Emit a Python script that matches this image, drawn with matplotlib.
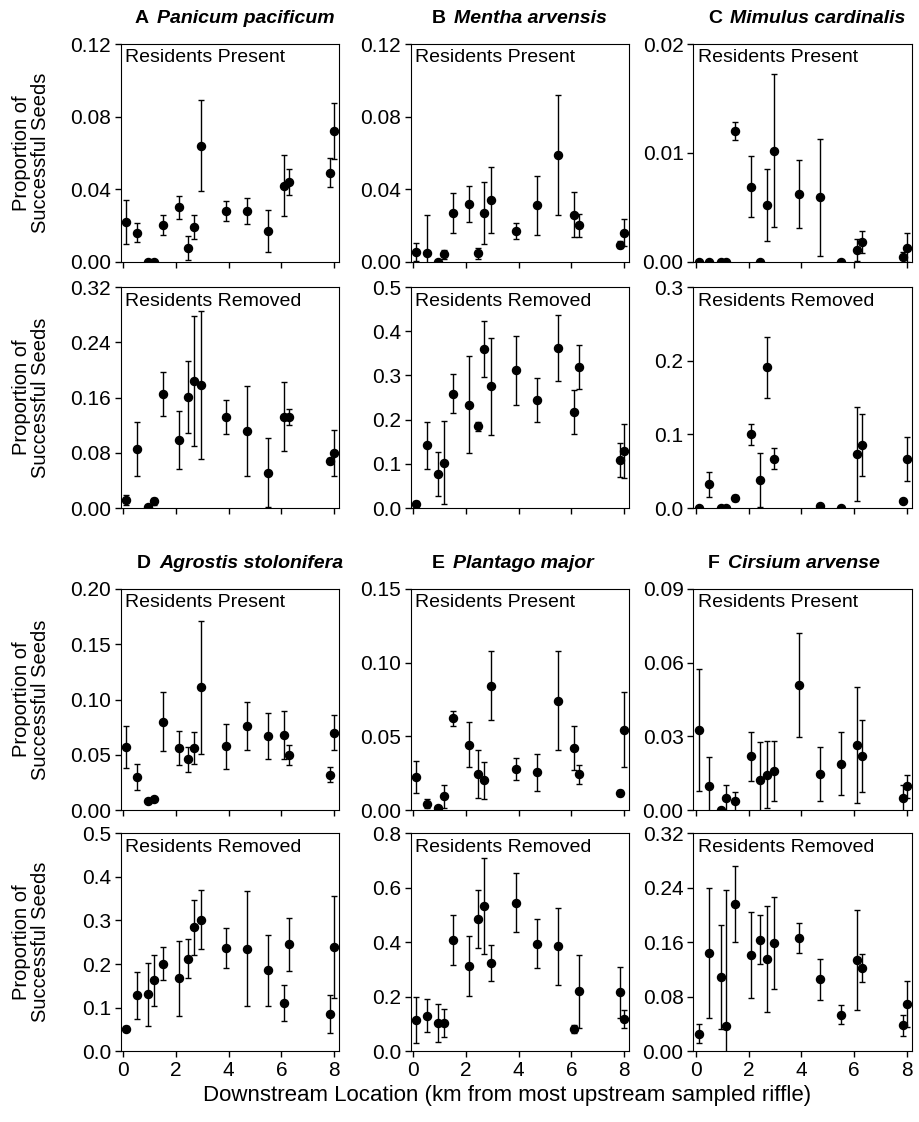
import matplotlib
matplotlib.use('Agg')
import matplotlib.pyplot as plt
import numpy as np

plt.rcParams['font.family'] = ['Liberation Sans', 'DejaVu Sans']

# downstream location of each sampled riffle (km)
km = [0.1, 0.5, 0.95, 1.15, 1.5, 2.1, 2.45, 2.7, 2.95, 3.9, 4.7, 5.5, 6.1, 6.3, 7.85, 8.0]

# mean proportion of successful seeds and SE, residents present / removed
panicum_pres = [0.022, 0.016, 0.0, 0.0, 0.020, 0.030, 0.0075, 0.019, 0.064, 0.028,
                0.028, 0.017, 0.042, 0.044, 0.049, 0.072]
panicum_pres_se = [0.012, 0.0053, 0, 0, 0.0055, 0.0064, 0.0064, 0.0065, 0.025, 0.0054,
                   0.0072, 0.0114, 0.0168, 0.007, 0.008, 0.0153]
panicum_rem = [0.012, 0.086, 0.001, 0.010, 0.165, 0.098, 0.161, 0.184, 0.178, 0.132,
               0.111, 0.051, 0.132, 0.132, 0.068, 0.080]
panicum_rem_se = [0.007, 0.039, 0, 0.005, 0.032, 0.042, 0.052, 0.094, 0.107, 0.025,
                  0.065, 0.05, 0.05, 0.012, 0.005, 0.033]

mentha_pres = [0.0055, 0.0048, 0.0, 0.004, 0.027, 0.032, 0.0046, 0.027, 0.034, 0.017,
               0.031, 0.059, 0.026, 0.020, 0.0094, 0.016]
mentha_pres_se = [0.005, 0.021, 0, 0.0026, 0.011, 0.010, 0.003, 0.017, 0.018, 0.0046,
                  0.0165, 0.033, 0.0124, 0.0062, 0.002, 0.0076]
mentha_rem = [0.01, 0.142, 0.077, 0.102, 0.259, 0.234, 0.185, 0.36, 0.275, 0.312,
              0.245, 0.362, 0.217, 0.319, 0.108, 0.13]
mentha_rem_se = [0.005, 0.053, 0.05, 0.094, 0.045, 0.11, 0.01, 0.064, 0.11, 0.078,
                 0.05, 0.074, 0.05, 0.05, 0.038, 0.061]

mimulus_pres = [0, 0, 0, 0, 0.012, 0.0069, 0, 0.0052, 0.0102, 0.0062,
                0.0059, 0, 0.0011, 0.0018, 0.0004, 0.0013]
mimulus_pres_se = [0, 0, 0, 0, 0.0008, 0.0028, 0, 0.0033, 0.007, 0.0031,
                   0.0054, 0, 0.001, 0.001, 0.0005, 0.0013]
mimulus_rem = [0, 0.032, 0, 0, 0.013, 0.100, 0.038, 0.191, 0.067, np.nan,
               0.003, 0.0, 0.073, 0.085, 0.009, 0.067]
mimulus_rem_se = [0, 0.0165, 0, 0, 0.004, 0.014, 0.037, 0.041, 0.014, np.nan,
                  0, 0, 0.064, 0.042, 0.002, 0.03]

agrostis_pres = [0.057, 0.030, 0.0087, 0.0099, 0.080, 0.056, 0.046, 0.056, 0.111, 0.058,
                 0.076, 0.067, 0.068, 0.050, 0.032, 0.070]
agrostis_pres_se = [0.019, 0.012, 0.0015, 0.001, 0.0265, 0.0155, 0.011, 0.0146, 0.06, 0.0203,
                    0.0218, 0.021, 0.0218, 0.0093, 0.0068, 0.016]
agrostis_rem = [0.052, 0.128, 0.131, 0.163, 0.201, 0.167, 0.212, 0.284, 0.302, 0.237,
                0.235, 0.186, 0.111, 0.245, 0.085, 0.239]
agrostis_rem_se = [0.005, 0.055, 0.072, 0.058, 0.038, 0.085, 0.045, 0.064, 0.068, 0.045,
                   0.132, 0.081, 0.041, 0.06, 0.044, 0.117]

plantago_pres = [0.0225, 0.0046, 0.0014, 0.0094, 0.0622, 0.0443, 0.0248, 0.0202, 0.0842, 0.028,
                 0.0257, 0.0743, 0.0422, 0.0243, 0.0117, 0.0546]
plantago_pres_se = [0.011, 0.003, 0.001, 0.0076, 0.0053, 0.0152, 0.0162, 0.0125, 0.0234, 0.0073,
                    0.0125, 0.0338, 0.0147, 0.0065, 0.0023, 0.0256]
plantago_rem = [0.115, 0.131, 0.104, 0.104, 0.409, 0.312, 0.485, 0.533, 0.324, 0.545,
                0.395, 0.385, 0.082, 0.220, 0.217, 0.117]
plantago_rem_se = [0.083, 0.061, 0.07, 0.05, 0.093, 0.11, 0.106, 0.175, 0.065, 0.108,
                   0.09, 0.14, 0.014, 0.133, 0.094, 0.033]

cirsium_pres = [0.0325, 0.010, 0.0, 0.0048, 0.0036, 0.0219, 0.0125, 0.0144, 0.016, 0.0508,
                0.0148, 0.0189, 0.0264, 0.0219, 0.0048, 0.0097]
cirsium_pres_se = [0.0248, 0.0117, 0, 0.0055, 0.004, 0.010, 0.0151, 0.0136, 0.0122, 0.0212,
                   0.011, 0.0127, 0.0236, 0.0146, 0.0055, 0.0048]
cirsium_rem = [0.026, 0.144, 0.109, 0.037, 0.216, 0.141, 0.164, 0.136, 0.159, 0.167,
               0.106, 0.054, 0.134, 0.122, 0.038, 0.069]
cirsium_rem_se = [0.014, 0.095, 0.076, 0.2, 0.056, 0.063, 0.036, 0.078, 0.068, 0.022,
                  0.030, 0.014, 0.074, 0.021, 0.016, 0.034]

letters = ['A', 'B', 'C', 'D', 'E', 'F']
names = ['Panicum pacificum', 'Mentha arvensis', 'Mimulus cardinalis',
         'Agrostis stolonifera', 'Plantago major', 'Cirsium arvense']

# y tick labels of each panel (present, removed)
yt_pres = [['0.00', '0.04', '0.08', '0.12'],
           ['0.00', '0.04', '0.08', '0.12'],
           ['0.00', '0.01', '0.02'],
           ['0.00', '0.05', '0.10', '0.15', '0.20'],
           ['0.00', '0.05', '0.10', '0.15'],
           ['0.00', '0.03', '0.06', '0.09']]
yt_rem = [['0.00', '0.08', '0.16', '0.24', '0.32'],
          ['0.0', '0.1', '0.2', '0.3', '0.4', '0.5'],
          ['0.0', '0.1', '0.2', '0.3'],
          ['0.0', '0.1', '0.2', '0.3', '0.4', '0.5'],
          ['0.0', '0.2', '0.4', '0.6', '0.8'],
          ['0.00', '0.08', '0.16', '0.24', '0.32']]

pres = [(panicum_pres, panicum_pres_se), (mentha_pres, mentha_pres_se),
        (mimulus_pres, mimulus_pres_se), (agrostis_pres, agrostis_pres_se),
        (plantago_pres, plantago_pres_se), (cirsium_pres, cirsium_pres_se)]
rem = [(panicum_rem, panicum_rem_se), (mentha_rem, mentha_rem_se),
       (mimulus_rem, mimulus_rem_se), (agrostis_rem, agrostis_rem_se),
       (plantago_rem, plantago_rem_se), (cirsium_rem, cirsium_rem_se)]

W, H = 919, 1122
fig = plt.figure(figsize=(W / 100, H / 100), dpi=100)

lefts = [120.7, 410.7, 693.3]
aw = 218.6
# (top, bottom) pixel rows: top group present/removed, bottom group present/removed
rows = [(44, 261.7), (287, 508), (588.7, 810.3), (833.3, 1051.3)]
letter_x = [0.065, 0.097, 0.067, 0.075, 0.097, 0.067]


def panel(r, c, data, ticks, label, bottom_row):
    top, bot = rows[r]
    ax = fig.add_axes([lefts[c] / W, 1 - bot / H, aw / W, (bot - top) / H])
    y, se = data
    ax.errorbar(km, y, yerr=se, fmt='o', color='black', ms=5.8, elinewidth=1.0,
                capsize=2, capthick=1.0)
    vals = [float(t) for t in ticks]
    ax.set_ylim(0, vals[-1])
    ax.set_yticks(vals)
    ax.set_yticklabels(ticks)
    ax.set_xlim(-0.1, 8.2)
    ax.set_xticks([0, 2, 4, 6, 8])
    if not bottom_row:
        ax.set_xticklabels([])
    ax.tick_params(direction='out', length=4, width=1, labelsize=15, pad=3)
    ax.text(0.02, 0.975, label, transform=ax.transAxes, ha='left', va='top', fontsize=14)
    if c == 0:
        ax.set_ylabel('Proportion of\nSuccessful Seeds', fontsize=14.5, linespacing=1.0)
        ax.yaxis.set_label_coords(-0.325, 0.5)
    return ax


for i in range(6):
    g, c = divmod(i, 3)
    ax_p = panel(2 * g, c, pres[i], yt_pres[i], 'Residents Present', False)
    panel(2 * g + 1, c, rem[i], yt_rem[i], 'Residents Removed', g == 1)
    t = ax_p.text(letter_x[i], 1.115, letters[i], transform=ax_p.transAxes,
                  ha='left', va='center', fontsize=14, fontweight='bold')
    ax_p.annotate(names[i], xy=(1, 0.5), xycoords=t, xytext=(6, 0),
                  textcoords='offset points', ha='left', va='center',
                  fontsize=14, fontweight='bold', fontstyle='italic')

fig.text(507 / W, 1 - 1095 / H, 'Downstream Location (km from most upstream sampled riffle)',
         ha='center', va='center', fontsize=16)

fig.savefig('out.png', dpi=100)
